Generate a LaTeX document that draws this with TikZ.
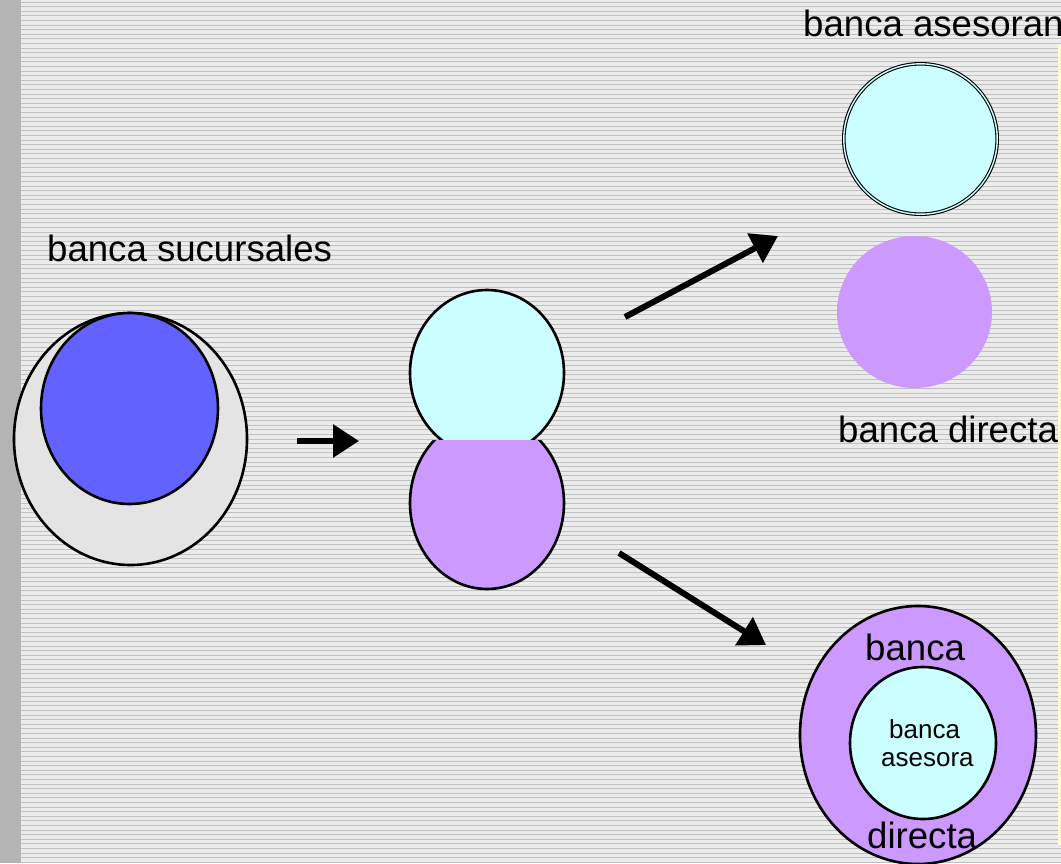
\documentclass[tikz,border=0pt]{standalone}
\usepackage{fontspec}
\setmainfont{Liberation Sans}
\usetikzlibrary{arrows.meta}
\definecolor{bgc}{HTML}{EBEBEB}
\definecolor{stripec}{HTML}{C0C0C0}
\definecolor{leftc}{HTML}{B4B4B4}
\definecolor{greyfill}{HTML}{E4E4E4}
\definecolor{bluefill}{HTML}{6262FF}
\definecolor{cyanfill}{HTML}{CCFFFF}
\definecolor{purplefill}{HTML}{CC99FF}
\definecolor{yellowc}{HTML}{FFFFCC}
\tikzset{
  outl/.style={draw=black, line width=2.6pt},
  bigtxt/.style={anchor=base west, inner sep=0pt, font=\fontsize{36.6}{40}\selectfont},
  smalltxt/.style={anchor=base west, inner sep=0pt, font=\fontsize{26}{30}\selectfont},
  fatarrow/.style={line width=6pt, -{Triangle[length=26pt,width=32pt]}},
}
\begin{document}
\begin{tikzpicture}[x=1pt,y=-1pt]
\path[use as bounding box] (0,0) rectangle (1061,863);
\clip (0,0) rectangle (1061,863);
% background
\fill[bgc] (0,0) rectangle (1061,863);
\foreach \i in {0,...,187} {
  \draw[stripec, line width=0.8pt] (21,{\i*4.6+2}) -- (1061,{\i*4.6+2});
}
\fill[leftc] (0,0) rectangle (21,863);
\fill[yellowc] (1058,45) rectangle (1061,845);
% left shape
\draw[outl, fill=greyfill] (130.5,439) ellipse [x radius=116.5pt, y radius=126pt];
\draw[outl, fill=bluefill] (129.5,408.5) ellipse [x radius=88.5pt, y radius=95.5pt];
\node[bigtxt] (suc) at (47,261) {banca sucursales};
% small arrow
\coordinate (a1s) at (297,441);
\coordinate (a1e) at (359,441);
\draw[fatarrow] (a1s) -- (a1e);
% middle shape
\begin{scope}
  \clip (380,250) rectangle (600,440);
  \draw[outl, fill=cyanfill] (487,373) ellipse [x radius=77pt, y radius=83pt];
\end{scope}
\begin{scope}
  \clip (380,440) rectangle (600,620);
  \draw[outl, fill=purplefill] (487,503) ellipse [x radius=77pt, y radius=86pt];
\end{scope}
% arrows to the right
\coordinate (a2s) at (625,317);
\coordinate (a2e) at (778,236);
\draw[fatarrow] (a2s) -- (a2e);
\coordinate (a3s) at (619,553);
\coordinate (a3e) at (766,645);
\draw[fatarrow] (a3s) -- (a3e);
% top right
\node[bigtxt] (ases) at (803,36) {banca asesoran};
\draw[draw=black, line width=1.1pt, double=cyanfill, double distance=1.4pt, fill=cyanfill]
  (920.5,139) ellipse [x radius=76.7pt, y radius=75.2pt];
\fill[purplefill] (914.5,312) ellipse [x radius=77.5pt, y radius=76pt];
\node[bigtxt] (dir) at (838,442) {banca directa};
% bottom right
\draw[outl, fill=purplefill] (918,735) ellipse [x radius=118pt, y radius=129pt];
\draw[outl, fill=cyanfill] (923,743) ellipse [x radius=73pt, y radius=76pt];
\node[bigtxt] (b1) at (865,660) {banca};
\node[bigtxt] (b2) at (867,848) {directa};
\node[smalltxt] (s1) at (889,738) {banca};
\node[smalltxt] (s2) at (881,766) {asesora};
\end{tikzpicture}
\end{document}
